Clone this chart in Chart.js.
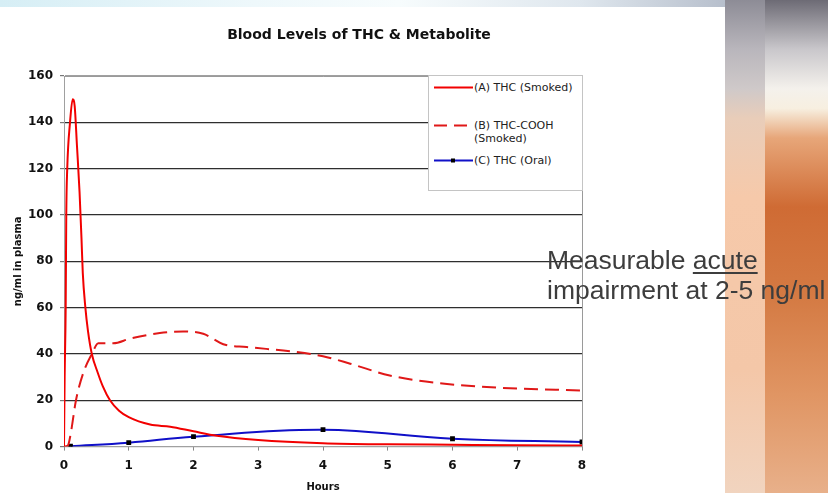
<!DOCTYPE html>
<html>
<head>
<meta charset="utf-8">
<script src="https://cdn.jsdelivr.net/npm/chart.js@4/dist/chart.umd.min.js"></script>
<style>
  html,body{margin:0;padding:0;}
  body{width:828px;height:493px;position:relative;overflow:hidden;background:#fff;}
  #topstrip{position:absolute;left:0;top:0;width:725px;height:7px;
    background:linear-gradient(to right,#d6eef5 0%,#eef8fb 35%,#f7fcfd 55%,#dfe7ee 80%,#b7bfcc 100%);}
  #rightA{position:absolute;left:725px;top:0;width:40px;height:493px;
    background:linear-gradient(to bottom,#8d8c96 0%,#b9b6bc 10%,#cfc9c9 18%,#e9cdb9 24%,#f6c9aa 40%,#f4c7a8 75%,#f1d4bf 100%);}
  #rightB{position:absolute;left:765px;top:0;width:63px;height:493px;
    background:linear-gradient(to bottom,#6d6b75 0%,#c9c7cb 10%,#f4f1ec 18%,#f7efe0 22%,#e7a679 28%,#cf6b34 42%,#d47a43 60%,#e09563 80%,#e8b08a 100%);}
  #panel{position:absolute;left:0;top:7px;width:725px;height:486px;background:#fff;}
  #c{position:absolute;left:0;top:0;}
  #title{position:absolute;left:0;width:718px;top:26px;text-align:center;
    font:bold 14px "DejaVu Sans",Verdana,sans-serif;color:#111;}
  #legend{position:absolute;left:428px;top:75px;width:153px;height:114px;border:1px solid #c4c4c4;background:#fff;
    font:11px "DejaVu Sans",Verdana,sans-serif;color:#222;}
  .item{position:absolute;left:0;}
  .item svg{position:absolute;left:5px;top:0;}
  .item span{position:absolute;left:45px;top:0;white-space:nowrap;line-height:13px;}
  #note{position:absolute;left:547px;top:245px;font:26.5px "Liberation Sans",Arial,sans-serif;line-height:30px;color:#3d3d3d;white-space:nowrap;}
  #note u{text-decoration-thickness:2px;text-underline-offset:3px;}
</style>
</head>
<body>
<div id="topstrip"></div>
<div id="rightA"></div>
<div id="rightB"></div>
<div id="panel"></div>
<canvas id="c" width="828" height="493"></canvas>
<div id="title">Blood Levels of THC &amp; Metabolite</div>
<div id="legend"></div>
<div id="note">Measurable <u>acute</u><br>impairment at 2-5 ng/ml</div>
<script>
// ---- data (hours, ng/ml) ----
const hoursA  = [0, 0.01, 0.026, 0.035, 0.05, 0.093, 0.134, 0.165, 0.2, 0.24, 0.27, 0.29, 0.33, 0.37, 0.43, 0.52, 0.6, 0.71, 0.85, 1.0, 1.33, 1.64, 2.0, 2.36, 3.0, 4.0, 5.0, 6.0, 7.0, 8.0];
const thcSmoked = [0, 30, 60, 100, 120, 140, 150, 147, 130, 110, 90, 75, 60, 50, 40, 32, 26, 20, 15.5, 12.7, 9.5, 8.6, 6.6, 4.7, 2.9, 1.5, 1.0, 0.8, 0.6, 0.5];

const hoursB  = [0, 0.06, 0.1, 0.185, 0.3, 0.43, 0.53, 0.76, 1.02, 1.48, 1.84, 2.15, 2.3, 2.46, 2.82, 3.54, 4.0, 4.42, 5.03, 5.8, 6.73, 8.0];
const thcCooh = [0, 0.5, 5, 20, 32, 40, 44.6, 44.6, 46.6, 49, 49.7, 48.7, 46.6, 44.2, 43, 41, 39, 35.8, 30.7, 27.4, 25.4, 24.2];

const hoursC  = [0.1, 1, 2, 4, 6, 8];
const thcOral = [0.2, 1.7, 4.3, 7.3, 3.4, 2.0];

const xTicks = [0, 1, 2, 3, 4, 5, 6, 7, 8];
const yTicks = [0, 20, 40, 60, 80, 100, 120, 140, 160];

const labels = ['(A) THC (Smoked)', '(B) THC-COOH (Smoked)', '(C) THC (Oral)'];

const pts = (xs, ys) => xs.map((x, i) => ({x: x, y: ys[i]}));

const datasets = [
  {label: labels[0], data: pts(hoursA, thcSmoked), borderColor: '#f20000', borderWidth: 2,
   pointRadius: 0, cubicInterpolationMode: 'monotone', fill: false},
  {label: labels[1], data: pts(hoursB, thcCooh), borderColor: '#e01818', borderWidth: 2,
   borderDash: [14, 7], pointRadius: 0, cubicInterpolationMode: 'monotone', fill: false},
  {label: labels[2], data: pts(hoursC, thcOral), borderColor: '#1010c8', borderWidth: 2,
   tension: 0.4, pointStyle: 'rect', pointRadius: 2, pointBackgroundColor: '#000', pointBorderColor: '#000', fill: false}
];

const frame = {
  id: 'frame',
  afterDatasetsDraw(chart) {
    const {ctx, chartArea: a} = chart;
    ctx.save();
    ctx.strokeStyle = '#9a9a9a';
    ctx.lineWidth = 1;
    ctx.beginPath();
    ctx.moveTo(a.left, a.top + 0.5);
    ctx.lineTo(a.right + 0.5, a.top + 0.5);
    ctx.lineTo(a.right + 0.5, a.bottom);
    ctx.stroke();
    ctx.restore();
  }
};

const tickFont = {family: '"DejaVu Sans", Verdana, sans-serif', size: 12, weight: 'bold'};
const titleFont = {family: '"DejaVu Sans", Verdana, sans-serif', size: 10, weight: 'bold'};

new Chart(document.getElementById('c'), {
  type: 'line',
  data: {datasets: datasets},
  options: {
    responsive: false,
    animation: false,
    devicePixelRatio: 1,
    layout: {padding: {left: 12, top: 76, right: 246, bottom: 0}},
    plugins: {legend: {display: false}, tooltip: {enabled: false}, title: {display: false}},
    scales: {
      x: {
        type: 'linear', min: 0, max: 8,
        afterBuildTicks: s => { s.ticks = xTicks.map(v => ({value: v})); },
        ticks: {font: tickFont, color: '#111', padding: 8, maxRotation: 0},
        grid: {drawOnChartArea: false, tickLength: 4, tickColor: '#888'},
        border: {display: true, color: '#a0a0a0'},
        title: {display: true, text: 'Hours', font: titleFont, color: '#111', padding: {top: 0, bottom: 0}}
      },
      y: {
        min: 0, max: 160,
        afterBuildTicks: s => { s.ticks = yTicks.map(v => ({value: v})); },
        afterFit: s => { s.width = 52; },
        ticks: {font: tickFont, color: '#111', padding: 7},
        grid: {
          color: c => (c.tick && (c.tick.value === 0 || c.tick.value === 160)) ? '#a0a0a0' : '#2e2e2e',
          lineWidth: 1.2, tickLength: 4, tickColor: '#777'
        },
        border: {display: true, color: '#a0a0a0'},
        title: {display: true, text: 'ng/ml in plasma', font: titleFont, color: '#111', padding: {top: 0, bottom: 0}}
      }
    }
  },
  plugins: [frame]
});

// ---- legend built from the datasets ----
const legendRows = [5, 43, 78];
const leg = document.getElementById('legend');
datasets.forEach((d, i) => {
  const row = document.createElement('div');
  row.className = 'item';
  row.style.top = legendRows[i] + 'px';
  const dash = d.borderDash ? `stroke-dasharray="13 7"` : '';
  const marker = d.pointStyle === 'rect' ? `<rect x="17" y="4.5" width="4" height="4" fill="#000"/>` : '';
  row.innerHTML = `<svg width="40" height="13"><line x1="0" y1="6.5" x2="39" y2="6.5" stroke="${d.borderColor}" stroke-width="2" ${dash}/>${marker}</svg>` +
    `<span>${i === 1 ? '(B) THC-COOH<br>(Smoked)' : d.label}</span>`;
  leg.appendChild(row);
});
</script>
</body>
</html>
